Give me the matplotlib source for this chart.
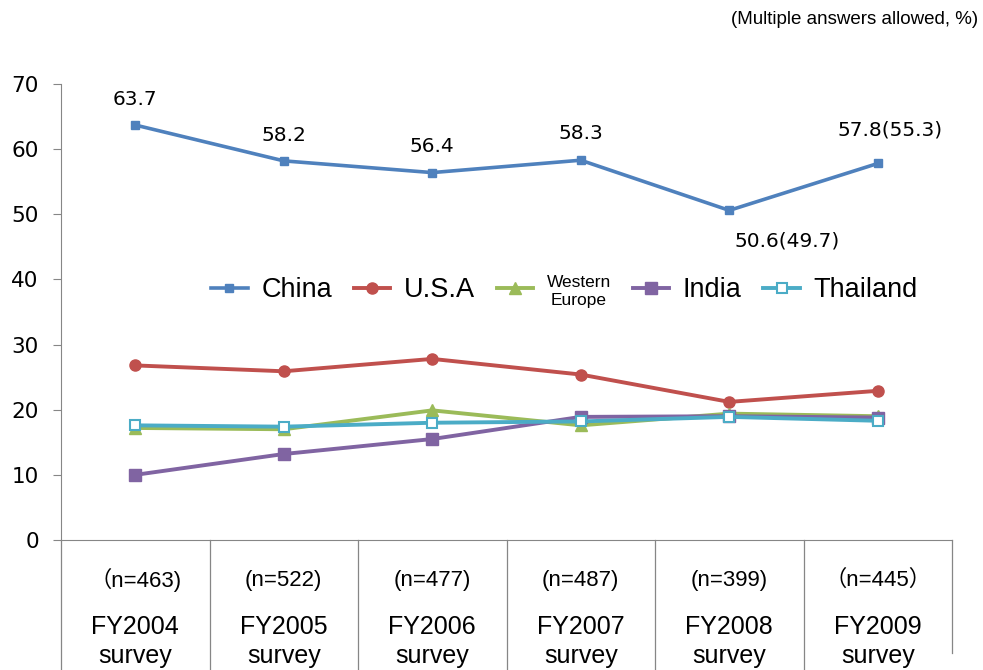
import matplotlib.pyplot as plt
import matplotlib.transforms as mtransforms

# data
surveys = ['FY2004\nsurvey', 'FY2005\nsurvey', 'FY2006\nsurvey',
           'FY2007\nsurvey', 'FY2008\nsurvey', 'FY2009\nsurvey']
sample_sizes = ['\uff08n=463)', '(n=522)', '(n=477)', '(n=487)', '(n=399)', '\uff08n=445\uff09']
china = [63.7, 58.2, 56.4, 58.3, 50.6, 57.8]
usa = [26.8, 25.9, 27.8, 25.4, 21.2, 22.9]
western_europe = [17.2, 17.0, 19.9, 17.6, 19.4, 19.0]
india = [10.0, 13.2, 15.5, 18.9, 19.0, 18.8]
thailand = [17.6, 17.4, 18.0, 18.2, 18.9, 18.3]
china_labels = ['63.7', '58.2', '56.4', '58.3', '50.6(49.7)', '57.8(55.3)']

fig = plt.figure(figsize=(9.83, 6.70), dpi=100)
ax = fig.add_axes([61 / 983, 130 / 670, 891 / 983, 456 / 670])

x = list(range(len(surveys)))

ax.plot(x, china, color='#4F81BD', lw=2.6, marker='s', ms=5.5, label='China', zorder=6)
ax.plot(x, usa, color='#C0504D', lw=2.8, marker='o', ms=8, label='U.S.A', zorder=2)
ax.plot(x, western_europe, color='#9BBB59', lw=2.8, marker='^', ms=8.5, label='Western\nEurope', zorder=3)
ax.plot(x, india, color='#8064A2', lw=2.8, marker='s', ms=8, label='India', zorder=4)
ax.plot(x, thailand, color='#4BACC6', lw=2.8, marker='s', ms=7, mfc='white', mew=1.5,
        label='Thailand', zorder=5)

# data labels for China
offsets = [(0, 18.5), (0, 18.5), (0, 18.5), (0, 19), (42, -22), (9, 24)]
for i, (val, txt) in enumerate(zip(china, china_labels)):
    ax.annotate(txt, (i, val), xytext=offsets[i], textcoords='offset points',
                ha='center', va='center', fontsize=14.5)

ax.set_xlim(-0.5, 5.5)
ax.set_ylim(0, 70)
ax.set_yticks(range(0, 71, 10))
ax.tick_params(axis='y', labelsize=15.5, length=6, color='#868686', pad=10)
ax.set_xticks([])

for side in ['top', 'right']:
    ax.spines[side].set_visible(False)
ax.spines['left'].set_color('#868686')
ax.spines['bottom'].set_color('#868686')

# category separators below the axis
trans = mtransforms.blended_transform_factory(ax.transData, ax.transAxes)
for b in [i - 0.5 for i in range(len(surveys) + 1)]:
    bottom = -0.248 if b == 5.5 else -0.29
    ax.plot([b, b], [0, bottom], color='#868686', lw=0.9, transform=trans, clip_on=False)

cat_font = ['Liberation Sans', 'Noto Sans CJK JP']
for i in x:
    top_line, bottom_line = surveys[i].split('\n')
    ax.text(i, -0.088, sample_sizes[i], transform=trans, ha='center', va='center',
            fontsize=16, family=cat_font)
    ax.text(i, -0.19, top_line, transform=trans, ha='center', va='center',
            fontsize=18, family=cat_font)
    ax.text(i, -0.255, bottom_line, transform=trans, ha='center', va='center',
            fontsize=18, family=cat_font)

leg = ax.legend(loc='center', bbox_to_anchor=(0.565, 0.545), ncol=5, frameon=False,
                prop={'family': 'Liberation Sans', 'size': 19.5}, handlelength=1.35,
                handletextpad=0.5, columnspacing=0.8)
leg.get_texts()[2].set_fontsize(12.5)
leg.get_texts()[2].set_multialignment('center')

fig.text(978 / 983, 1 - 20 / 670, '(Multiple answers allowed, %)', ha='right', va='center',
         fontsize=13.5, family='Liberation Sans')

fig.savefig('out.png', dpi=100)
